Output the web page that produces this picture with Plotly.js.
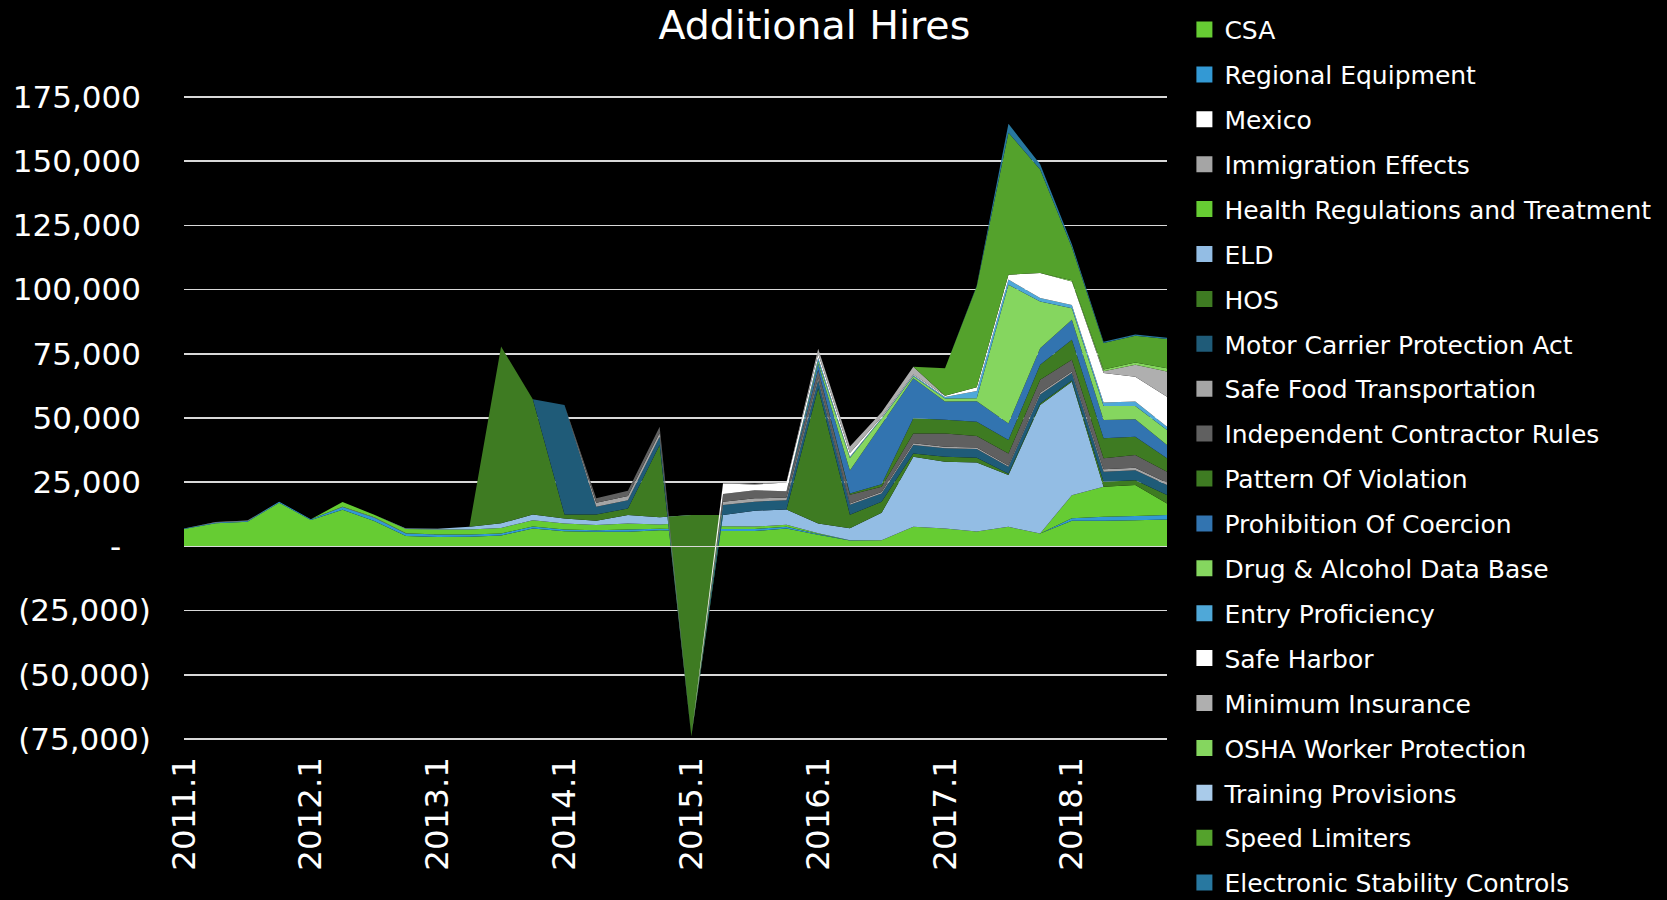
<!DOCTYPE html>
<html><head><meta charset="utf-8">
<script src="https://cdn.plot.ly/plotly-3.0.1.min.js"></script>
<style>html,body{margin:0;padding:0;background:#000;}#chart{width:1667px;height:900px;}</style>
</head><body><div id="chart"></div>
<script>
const quarters = ["2011.1","2011.2","2011.3","2011.4","2012.1","2012.2","2012.3","2012.4",
  "2013.1","2013.2","2013.3","2013.4","2014.1","2014.2","2014.3","2014.4",
  "2015.1","2015.2","2015.3","2015.4","2016.1","2016.2","2016.3","2016.4",
  "2017.1","2017.2","2017.3","2017.4","2018.1","2018.2","2018.3","2018.4"];
const yearTicks = ["2011.1","2012.1","2013.1","2014.1","2015.1","2016.1","2017.1","2018.1"];
const yTickVals = [-75000,-50000,-25000,0,25000,50000,75000,100000,125000,150000,175000];
const yTickText = ["(75,000)","(50,000)","(25,000)","-\u00A0\u00A0\u00A0","25,000\u00A0","50,000\u00A0","75,000\u00A0","100,000\u00A0","125,000\u00A0","150,000\u00A0","175,000\u00A0"];

const csa        = [6800,9000,9600,17000,10300,14300,9900,4000,3700,3800,4200,7000,5900,5700,5700,6300,6000,6000,6000,7000,4500,2300,2400,7600,7000,5800,7600,5000,9950,9950,10200,10500];
const regional   = [200,300,300,400,300,1000,1300,1000,900,800,800,700,700,600,900,600,700,750,800,600,300,100,0,0,0,0,0,0,1000,1550,1600,1700];
const mexico     = [0,0,0,0,0,0,0,0,0,0,0,0,0,0,0,0,0,0,0,0,0,0,0,0,0,0,0,0,0,0,0,0];
const immigration= [0,150,150,0,0,150,150,150,0,0,0,0,0,0,0,0,0,0,0,0,0,0,0,0,0,0,0,0,0,0,0,0];
const health     = [0,0,0,0,0,1800,1000,1600,2000,2000,2200,2500,2300,2000,2300,1600,2500,1100,900,800,300,0,0,0,0,0,0,0,9000,11700,12100,4500];
const eld        = [0,0,0,0,0,0,0,200,300,1000,1800,2200,2000,1650,3300,2800,3000,4350,6200,6000,3800,4700,10700,27300,26000,26900,20200,50100,44200,0,0,0];
const hos        = [0,0,0,0,0,0,0,0,0,0,68800,44900,1500,2450,2600,28200,-86200,0,0,0,52700,5200,4300,1300,1900,1800,500,500,500,2000,1900,3300];
const mcpa       = [0,0,0,0,0,0,0,0,0,0,0,0,42700,3000,3200,3200,0,3900,3500,3600,3200,3900,3200,3300,3300,3400,2700,3600,2900,3900,3900,3900];
const safeFood   = [0,0,0,0,0,0,0,0,0,0,0,0,0,1600,1600,1600,0,1300,1300,1000,1000,500,600,700,600,600,500,600,600,900,900,900];
const indContr   = [0,0,0,0,0,0,0,0,0,0,0,0,0,1700,2100,2300,0,3000,3200,2500,3000,3400,2000,3800,5200,4500,4700,5100,4500,4300,5000,4300];
const patternViol= [0,0,0,0,0,0,0,0,0,0,0,0,0,0,0,0,0,0,0,0,0,500,1000,5900,5300,5500,5200,5800,7800,7800,7100,5200];
const prohibCoer = [0,0,0,0,0,0,0,0,0,0,0,0,0,0,0,0,0,0,0,0,2500,9000,23300,15600,7100,8000,6500,6500,7800,7100,6800,5200];
const drugAlc    = [0,0,0,0,0,0,0,0,0,0,0,0,0,0,0,0,0,0,0,0,1000,4800,2200,800,1200,1200,54000,18200,4500,5500,5200,5800];
const entryProf  = [0,0,0,0,0,0,0,0,0,0,0,0,0,0,0,0,0,0,0,0,1200,500,300,300,600,2800,2000,1300,1300,1300,1700,1300];
const safeHarbor = [0,0,0,0,0,0,0,0,0,0,0,0,0,0,0,0,0,4100,2200,3400,1500,1500,400,300,500,1500,1900,9800,9100,11500,9700,11700];
const minIns     = [0,0,0,0,0,0,0,0,0,0,0,0,0,0,0,0,0,300,300,300,2000,2500,1800,3100,0,0,0,0,0,700,4600,9800];
const osha       = [0,0,0,0,0,0,0,0,0,0,0,0,0,0,0,0,0,0,0,0,0,0,0,0,0,0,0,0,500,700,900,1300];
const training   = [0,0,0,0,0,0,0,0,0,0,0,0,0,0,0,0,0,0,0,0,0,0,0,0,0,0,0,0,0,0,0,0];
const speedLim   = [0,0,0,0,0,0,0,0,0,0,0,0,0,0,0,0,0,0,0,0,0,0,0,0,10700,39300,55300,40300,12800,10300,10400,11400];
const esc        = [0,0,0,0,0,0,0,0,0,0,0,0,0,0,0,0,0,0,0,0,0,0,0,0,0,300,3500,2000,1200,500,500,500];

const seriesNames = ["CSA","Regional Equipment","Mexico","Immigration Effects","Health Regulations and Treatment","ELD","HOS","Motor Carrier Protection Act","Safe Food Transportation","Independent Contractor Rules","Pattern Of Violation","Prohibition Of Coercion","Drug & Alcohol Data Base","Entry Proficiency","Safe Harbor","Minimum Insurance","OSHA Worker Protection","Training Provisions","Speed Limiters","Electronic Stability Controls"];
const seriesValues = [csa,regional,mexico,immigration,health,eld,hos,mcpa,safeFood,indContr,patternViol,prohibCoer,drugAlc,entryProf,safeHarbor,minIns,osha,training,speedLim,esc];
const seriesColors = ["#66CC33","#3399D4","#FFFFFF","#A5A5A5","#66CC33","#93BDE4","#3E7B22","#1F5B78","#A5A5A5","#606060","#3E7B22","#3274B0","#85D65F","#4FA8D8","#FFFFFF","#AFAFAF","#85D65F","#A9CBEA","#54A22C","#2878A0"];

const FONT = "DejaVu Sans";
const traces = [];
seriesNames.forEach((n, k) => {
  traces.push({type:'scatter', x: quarters, y: seriesValues[k], name: n, stackgroup:'one', mode:'none',
    fillcolor: seriesColors[k], line:{width:0}, showlegend:false, hoverinfo:'skip'});
});
seriesNames.forEach((n, k) => {
  traces.push({type:'scatter', x:[null], y:[null], name:n, mode:'markers', legendgroup:'g'+k,
    marker:{symbol:'square', size:16, color: seriesColors[k]}, showlegend:true, hoverinfo:'skip'});
});

const layout = {
  width:1667, height:900,
  paper_bgcolor:'#000', plot_bgcolor:'#000',
  margin:{l:184, r:500, t:96, b:160, pad:0},
  title:{text:'Additional Hires', font:{family:FONT, size:39.5, color:'#fff'},
    xref:'container', x:0.4885, xanchor:'center', yref:'container', y:0.972, yanchor:'middle'},
  xaxis:{type:'category', range:[0,31], tickmode:'array', tickvals:yearTicks, ticktext:yearTicks,
    tickangle:-90, tickfont:{family:FONT, size:32.5, color:'#fff'}, showgrid:false, zeroline:false,
    showline:false, ticks:'outside', ticklen:3, tickcolor:'rgba(0,0,0,0)', fixedrange:true},
  yaxis:{range:[-75400,175400], tickmode:'array', tickvals:yTickVals, ticktext:yTickText,
    tickfont:{family:FONT, size:31, color:'#fff'}, showgrid:true, gridcolor:'#d9d9d9', gridwidth:1.75,
    zeroline:true, zerolinecolor:'#d9d9d9', zerolinewidth:1.75, zerolinelayer:'above traces',
    ticks:'outside', ticklen:26, tickcolor:'rgba(0,0,0,0)', showline:false, fixedrange:true},
  legend:{xref:'container', yref:'container', x:0.7105, y:0.9925, xanchor:'left', yanchor:'top',
    font:{family:FONT, size:25, color:'#fff'}, tracegroupgap:9.4, bgcolor:'rgba(0,0,0,0)', itemwidth:30,
    maxheight:2000},
  showlegend:true
};
Plotly.newPlot('chart', traces, layout, {displayModeBar:false, staticPlot:true});
</script></body></html>
